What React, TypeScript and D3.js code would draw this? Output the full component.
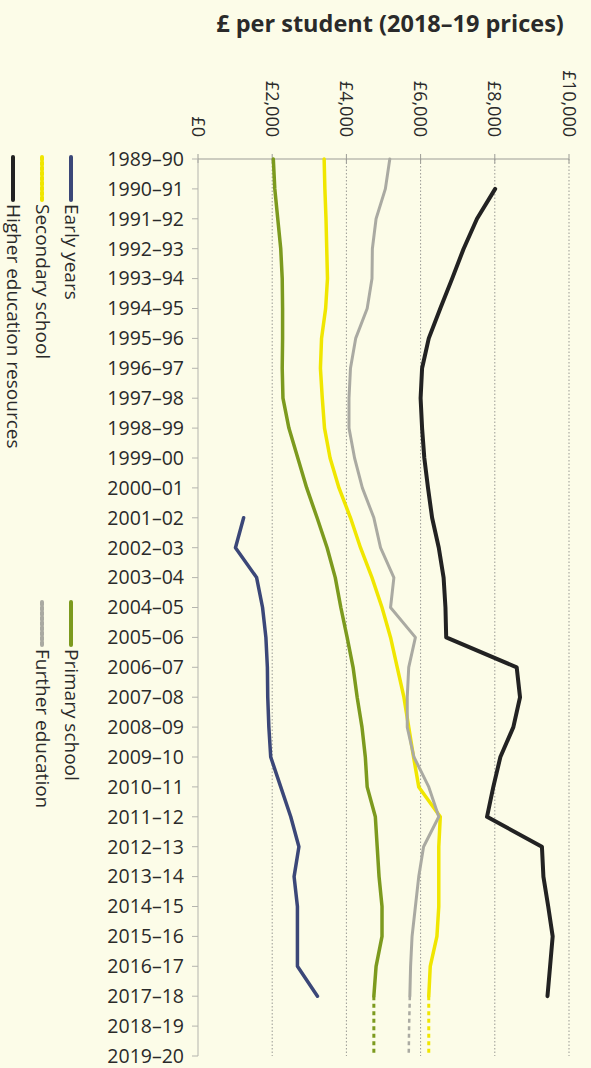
import { useEffect, useRef } from "react";
import * as d3 from "d3";

const years = [
  "1989–90", "1990–91", "1991–92", "1992–93", "1993–94", "1994–95", "1995–96",
  "1996–97", "1997–98", "1998–99", "1999–00", "2000–01", "2001–02", "2002–03",
  "2003–04", "2004–05", "2005–06", "2006–07", "2007–08", "2008–09", "2009–10",
  "2010–11", "2011–12", "2012–13", "2013–14", "2014–15", "2015–16", "2016–17",
  "2017–18", "2018–19", "2019–20",
];

// values per year, 1989–90 to 2017–18 (null = no data)
const earlyYears = [
  null, null, null, null, null, null, null, null, null, null, null, null,
  1230, 1010, 1580, 1740, 1830, 1870, 1880, 1910, 1960, 2230, 2500, 2720,
  2590, 2680, 2680, 2680, 3220,
];
const primarySchool = [
  2030, 2070, 2150, 2230, 2270, 2280, 2280, 2270, 2290, 2450, 2690, 2930,
  3210, 3480, 3700, 3850, 4020, 4180, 4290, 4420, 4510, 4560, 4780, 4830,
  4880, 4960, 4960, 4800, 4740,
];
const secondarySchool = [
  3400, 3420, 3450, 3470, 3490, 3440, 3330, 3300, 3350, 3410, 3560, 3800,
  4110, 4380, 4690, 4960, 5190, 5370, 5550, 5680, 5810, 5950, 6530, 6490,
  6490, 6490, 6440, 6260, 6220,
];
const furtherEducation = [
  5170, 5050, 4800, 4700, 4690, 4560, 4250, 4110, 4070, 4070, 4220, 4430,
  4740, 4920, 5280, 5190, 5860, 5680, 5640, 5640, 5820, 6220, 6490, 6080,
  5950, 5860, 5770, 5730, 5710,
];
const higherEducation = [
  null, 8010, 7520, 7160, 6850, 6530, 6220, 6040, 6000, 6040, 6100, 6200,
  6310, 6490, 6620, 6670, 6690, 8590, 8680, 8500, 8150, 7960, 7790, 9270,
  9310, 9440, 9560, 9490, 9420,
];

// projections 2017–18 to 2019–20
const projectionYears = ["2017–18", "2018–19", "2019–20"];
const primaryProjection = [4740, 4740, 4740];
const secondaryProjection = [6220, 6220, 6220];
const furtherProjection = [5710, 5690, 5680];

const valueTicks = [0, 2000, 4000, 6000, 8000, 10000];

const series = [
  { name: "Early years", values: earlyYears, color: "#3b4778", width: 3.5 },
  { name: "Primary school", values: primarySchool, color: "#7c9a1e", width: 3.5, projection: primaryProjection },
  { name: "Secondary school", values: secondarySchool, color: "#f0e600", width: 3.5, projection: secondaryProjection },
  { name: "Further education", values: furtherEducation, color: "#aaaaa2", width: 3, projection: furtherProjection },
  { name: "Higher education resources", values: higherEducation, color: "#222222", width: 4 },
];

const FONT = "'Open Sans', sans-serif";

export default function App() {
  const ref = useRef<SVGSVGElement>(null);

  useEffect(() => {
    const svg = d3.select(ref.current);
    svg.selectAll("*").remove();

    const width = 591;
    const height = 1068;

    const x = d3.scaleLinear().domain([0, 10000]).range([198, 569]);
    const y = d3.scalePoint<string>().domain(years).range([159, 1056]);

    svg.append("rect").attr("width", width).attr("height", height).attr("fill", "#fcfce8");

    // title
    svg.append("text")
      .attr("x", 390)
      .attr("y", 32)
      .attr("text-anchor", "middle")
      .attr("font-family", FONT)
      .attr("font-weight", 700)
      .attr("font-size", 23.5)
      .attr("fill", "#2a2a2a")
      .text("£ per student (2018–19 prices)");

    // gridlines
    svg.append("g")
      .selectAll("line")
      .data(valueTicks.slice(1))
      .join("line")
      .attr("x1", d => x(d))
      .attr("x2", d => x(d))
      .attr("y1", y(years[0])!)
      .attr("y2", y(years[years.length - 1])!)
      .attr("stroke", "#9a9a94")
      .attr("stroke-width", 1)
      .attr("stroke-dasharray", "1.5,2");

    // top axis
    svg.append("line")
      .attr("x1", x(0)).attr("x2", x(10000))
      .attr("y1", y(years[0])!).attr("y2", y(years[0])!)
      .attr("stroke", "#9c9c96").attr("stroke-width", 1);
    svg.append("g")
      .selectAll("line")
      .data(valueTicks)
      .join("line")
      .attr("x1", d => x(d)).attr("x2", d => x(d))
      .attr("y1", y(years[0])! - 5).attr("y2", y(years[0])! + 4)
      .attr("stroke", "#9c9c96");
    svg.append("g")
      .selectAll("text")
      .data(valueTicks)
      .join("text")
      .attr("transform", d => `translate(${x(d)},137) rotate(90)`)
      .attr("text-anchor", "end")
      .attr("dy", "0.35em")
      .attr("font-family", FONT)
      .attr("font-size", 18)
      .attr("fill", "#2a2a2a")
      .text(d => "£" + d3.format(",")(d));

    // left axis
    svg.append("line")
      .attr("x1", x(0)).attr("x2", x(0))
      .attr("y1", y(years[0])!).attr("y2", y(years[years.length - 1])!)
      .attr("stroke", "#b4b4ae").attr("stroke-width", 1);
    svg.append("g")
      .selectAll("line")
      .data(years)
      .join("line")
      .attr("x1", x(0) - 6).attr("x2", x(0))
      .attr("y1", d => y(d)!).attr("y2", d => y(d)!)
      .attr("stroke", "#b4b4ae");
    svg.append("g")
      .selectAll("text")
      .data(years)
      .join("text")
      .attr("x", 184)
      .attr("y", d => y(d)!)
      .attr("dy", "0.35em")
      .attr("text-anchor", "end")
      .attr("font-family", FONT)
      .attr("font-size", 19.5)
      .attr("fill", "#2a2a2a")
      .text(d => d);

    const line = d3.line<[string, number | null]>()
      .defined(d => d[1] != null)
      .x(d => x(d[1] as number))
      .y(d => y(d[0])!);

    const lines = svg.append("g").attr("fill", "none").attr("stroke-linecap", "round").attr("stroke-linejoin", "round");

    for (const s of series) {
      if (s.projection) {
        lines.append("path")
          .attr("d", line(projectionYears.map((yr, i) => [yr, s.projection![i]])))
          .attr("stroke", s.color)
          .attr("stroke-width", s.width - 0.5)
          .attr("stroke-linecap", "butt")
          .attr("stroke-dasharray", "4,3.5");
      }
    }
    for (const s of series) {
      lines.append("path")
        .attr("d", line(s.values.map((v, i) => [years[i], v])))
        .attr("stroke", s.color)
        .attr("stroke-width", s.width);
    }

    // legend (rotated)
    const legend = [
      { s: series[0], lx: 71, ly: 157 },
      { s: series[2], lx: 42, ly: 157 },
      { s: series[4], lx: 13, ly: 157 },
      { s: series[1], lx: 71, ly: 602 },
      { s: series[3], lx: 42, ly: 602 },
    ];
    const lg = svg.append("g");
    for (const { s, lx, ly } of legend) {
      const dashed = s.name === "Secondary school" || s.name === "Further education";
      lg.append("line")
        .attr("x1", lx).attr("x2", lx)
        .attr("y1", ly).attr("y2", ly + 43)
        .attr("stroke", s.color)
        .attr("stroke-width", 4)
        .attr("stroke-linecap", "round")
        .attr("stroke-dasharray", dashed ? "3,2" : null);
      lg.append("text")
        .attr("transform", `translate(${lx},${ly + 47}) rotate(90)`)
        .attr("dy", "0.3em")
        .attr("font-family", FONT)
        .attr("font-size", 19)
        .attr("fill", "#2a2a2a")
        .text(s.name);
    }
  }, []);

  return (
    <svg
      ref={ref}
      width={591}
      height={1068}
      style={{ position: "absolute", left: 0, top: 0, display: "block" }}
    />
  );
}
